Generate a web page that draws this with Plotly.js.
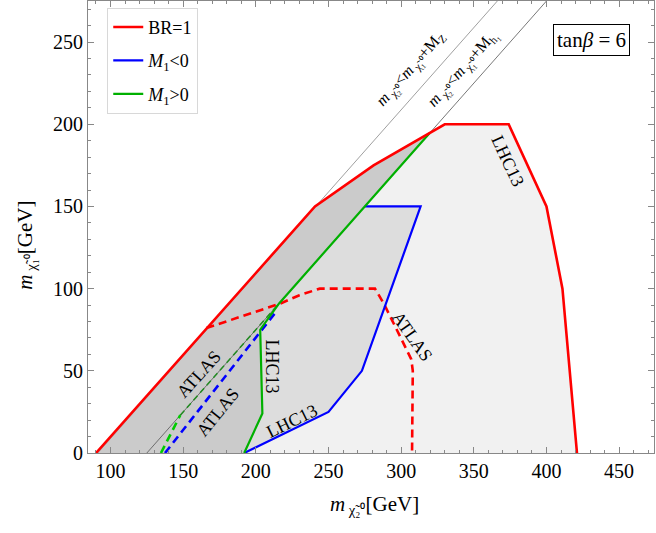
<!DOCTYPE html>
<html>
<head>
<meta charset="utf-8">
<script src="https://cdn.plot.ly/plotly-3.0.1.min.js"></script>
<style>
  body { margin: 0; background: #fff; }
  #plot { width: 656px; height: 533px; }
</style>
</head>
<body>
<div id="plot"></div>
<script>
// BR=1 exclusion boundary (red, solid)
const brX = [90, 240.7, 281, 319.5, 330, 374, 400, 411, 416, 421];
const brY = [0, 150, 175, 194.5, 200, 200, 150, 100, 51, 0];

// ATLAS BR=1 boundary (red, dashed)
const atlasRedX = [166, 200, 217, 230, 244, 282, 288, 297, 307, 308, 307.5];
const atlasRedY = [76, 86, 91, 96, 100, 100, 91, 75, 57, 50, 0];

// M1<0 (blue)
const lhcBlueX = [192, 250, 273, 313.4, 275];
const lhcBlueY = [0, 25, 50, 150, 150];
const atlasBlueX = [137.5, 214];
const atlasBlueY = [0, 86];

// M1>0 (green)
const lhcGreenX = [192, 204.5, 203, 216, 319.5];
const lhcGreenY = [0, 24, 75, 91, 194.5];
const atlasGreenX = [134.7, 148];
const atlasGreenY = [0, 23];
const atlasGreenThinX = [148, 216];
const atlasGreenThinY = [23, 91];

// kinematic lines
const mzX = [91.2, 366.2];
const mzY = [0, 275];
const mhX = [125, 400];
const mhY = [0, 275];

// shaded regions
const darkX = [90, 240.7, 281, 319.5, 216, 203, 204.5, 192];
const darkY = [0, 150, 175, 194.5, 91, 75, 24, 0];
const midX = [192, 204.5, 203, 216, 275, 313.4, 273, 250];
const midY = [0, 24, 75, 91, 150, 150, 50, 25];

const serif = 'Liberation Serif, Times New Roman, serif';

function fillTrace(x, y, color) {
  return { x: x, y: y, mode: 'lines', fill: 'toself', fillcolor: color,
    line: { width: 0 }, hoverinfo: 'skip', showlegend: false, type: 'scatter' };
}
function lineTrace(x, y, color, width, dash, name, show) {
  return { x: x, y: y, mode: 'lines', name: name || '',
    line: { color: color, width: width, dash: dash || 'solid' },
    showlegend: !!show, legendgroup: name || undefined, type: 'scatter' };
}

const data = [
  fillTrace(brX.concat([brX[0]]), brY.concat([brY[0]]), '#f1f1f1'),
  fillTrace(midX, midY, '#dddddd'),
  fillTrace(darkX, darkY, '#cbcbcb'),
  lineTrace(mzX, mzY, '#a0a0a0', 1),
  lineTrace(mhX, mhY, '#555555', 0.8),
  lineTrace(atlasRedX, atlasRedY, '#ff0000', 2.6, '8px,5px'),
  lineTrace(atlasBlueX, atlasBlueY, '#0000ff', 2.6, '8px,5px'),
  lineTrace(atlasGreenX, atlasGreenY, '#00cc00', 2.6, '8px,5px'),
  lineTrace(atlasGreenThinX, atlasGreenThinY, '#228b22', 1.5, '6px,4px'),
  lineTrace(lhcBlueX, lhcBlueY, '#0000ff', 2.2, 'solid', '<i>M</i><sub>1</sub>&lt;0', true),
  lineTrace(lhcGreenX, lhcGreenY, '#00b000', 2.2, 'solid', '<i>M</i><sub>1</sub>&gt;0', true),
  lineTrace(brX, brY, '#ff0000', 2.6, 'solid', 'BR=1', true)
];
// legend order: BR=1, M1<0, M1>0
data[11].legendrank = 1;
data[9].legendrank = 2;
data[10].legendrank = 3;

function label(text, x, y, angle, size) {
  return { text: text, x: x, y: y, xref: 'x', yref: 'y', showarrow: false,
    xanchor: 'center', yanchor: 'middle',
    textangle: angle, font: { family: serif, size: size || 18, color: '#000' } };
}

const annotations = [
  label('LHC13', 373.5, 177.8, 65),
  label('LHC13', 211.1, 52.7, 90),
  label('LHC13', 224.9, 19.3, -26),
  label('ATLAS', 160.9, 47.8, -48),
  label('ATLAS', 174, 24.7, -51),
  label('ATLAS', 307.3, 70.9, 55),
  label('<i>m</i><sub> χ̃₂⁰</sub>&lt;<i>m</i><sub> χ̃₁⁰</sub>+M<sub>Z</sub>', 306.8, 233.7, -48.6, 16),
  label('<i>m</i><sub> χ̃₂⁰</sub>&lt;<i>m</i><sub> χ̃₁⁰</sub>+M<sub>h₁</sub>', 342.6, 233.7, -48.6, 16),
  { text: 'tan<i>β</i> = 6', xref: 'paper', yref: 'paper', x: 0.889, y: 0.914,
    xanchor: 'center', yanchor: 'middle',
    showarrow: false, bordercolor: '#000', borderwidth: 1, borderpad: 3, bgcolor: '#fff',
    font: { family: serif, size: 21, color: '#000' } },
  { text: '<i>m</i><sub> χ̃₂⁰</sub>[GeV]', xref: 'paper', yref: 'paper', x: 0.506, y: -0.115,
    xanchor: 'center', yanchor: 'middle',
    showarrow: false, font: { family: serif, size: 21, color: '#000' } },
  { text: '<i>m</i><sub> χ̃₁⁰</sub>[GeV]', xref: 'paper', yref: 'paper', x: -0.111, y: 0.459,
    xanchor: 'center', yanchor: 'middle',
    textangle: -90, showarrow: false, font: { family: serif, size: 21, color: '#000' } }
];

const axisCommon = {
  showgrid: false, zeroline: false, showline: true, linecolor: '#888', linewidth: 1,
  mirror: 'ticks', ticks: 'inside', ticklen: 6, tickcolor: '#888', tickwidth: 1,
  minor: { ticks: 'inside', ticklen: 3, tickcolor: '#888', dtick: 10, showgrid: false },
  tickfont: { family: serif, size: 20, color: '#000' }
};

const layout = {
  width: 656, height: 533,
  margin: { l: 88, r: 2, t: 1, b: 80 },
  paper_bgcolor: '#fff', plot_bgcolor: '#fff',
  xaxis: Object.assign({}, axisCommon, { range: [84.5, 474], tick0: 100, dtick: 50 }),
  yaxis: Object.assign({}, axisCommon, { range: [0, 275], tick0: 0, dtick: 50 }),
  showlegend: true,
  legend: {
    x: 0.034, y: 0.985, xanchor: 'left', yanchor: 'top',
    bgcolor: '#fff', bordercolor: '#d8d8d8', borderwidth: 1,
    font: { family: serif, size: 18, color: '#000' },
    traceorder: 'grouped', tracegroupgap: 7, itemwidth: 30
  },
  annotations: annotations
};

Plotly.newPlot('plot', data, layout, { staticPlot: true });
</script>
</body>
</html>
